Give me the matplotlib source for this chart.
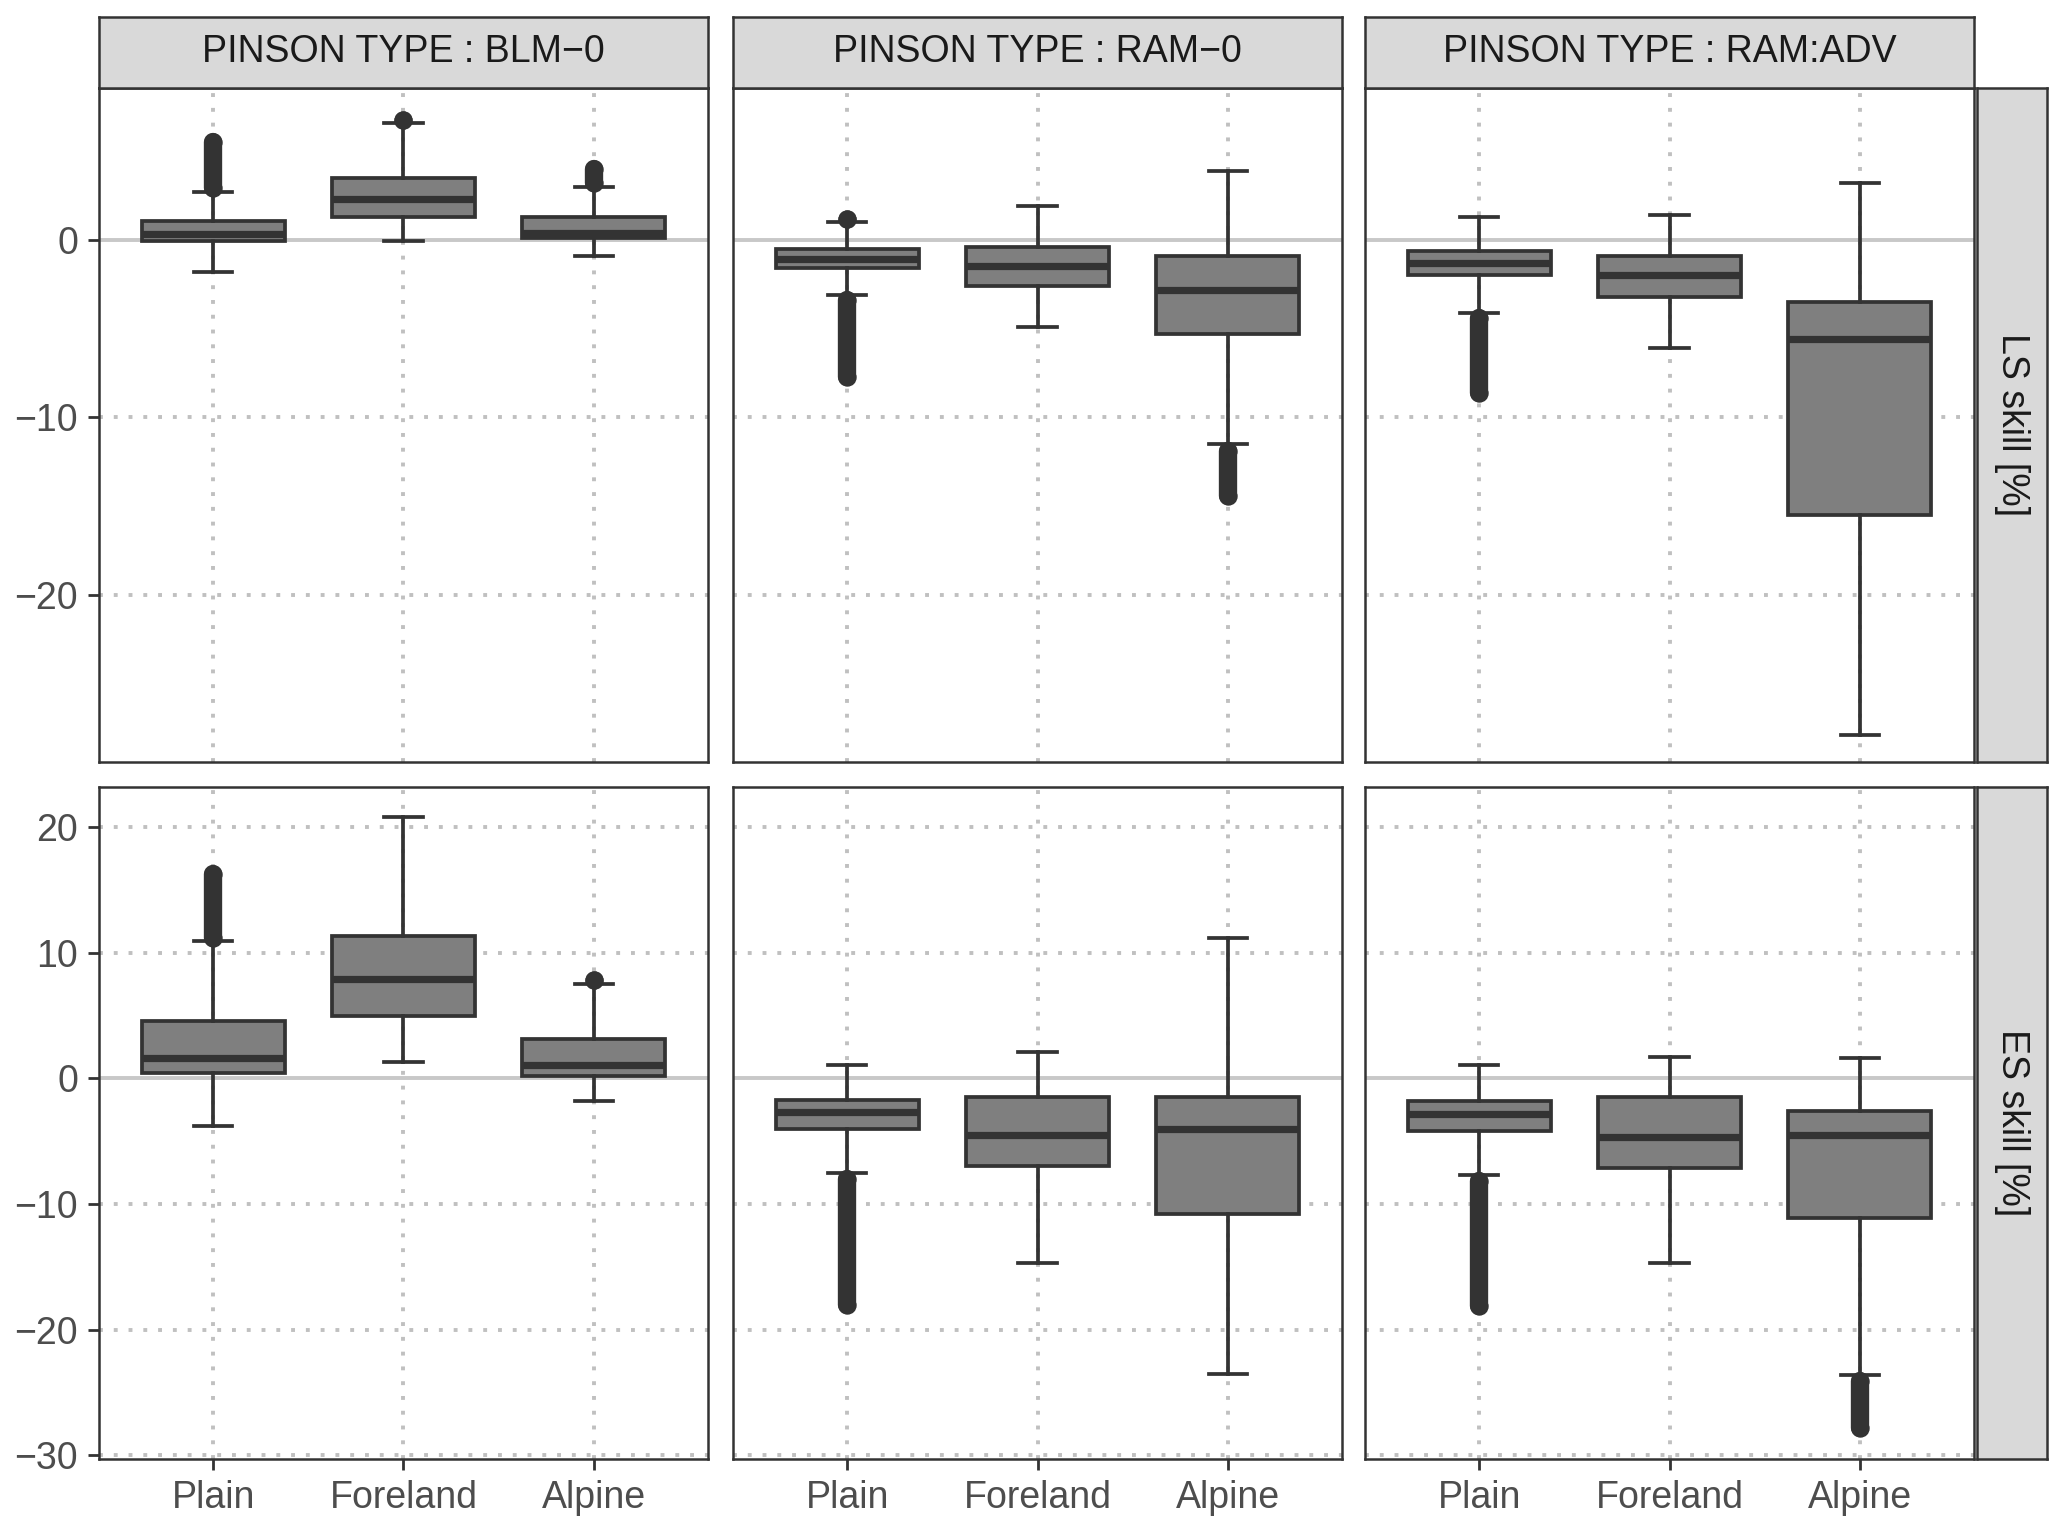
import matplotlib.pyplot as plt

plt.rcParams['font.family'] = ['Liberation Sans', 'DejaVu Sans']

regions = ['Plain', 'Foreland', 'Alpine']
pinson_types = ['BLM\u22120', 'RAM\u22120', 'RAM:ADV']
rows = ['LS skill [%]', 'ES skill [%]']

# LS skill, one list per pinson type (Plain, Foreland, Alpine)
ls_q1 = [[-0.05, 1.3, 0.1], [-1.6, -2.6, -5.3], [-2.0, -3.2, -15.5]]
ls_med = [[0.35, 2.3, 0.4], [-1.1, -1.5, -2.8], [-1.3, -2.0, -5.6]]
ls_q3 = [[1.05, 3.5, 1.3], [-0.5, -0.4, -0.9], [-0.6, -0.9, -3.5]]
ls_lo = [[-1.8, -0.05, -0.9], [-3.1, -4.9, -11.5], [-4.1, -6.1, -27.9]]
ls_hi = [[2.7, 6.6, 3.0], [1.0, 1.9, 3.9], [1.3, 1.4, 3.2]]
ls_out = [[[(2.9, 5.5)], [(6.75, 6.75)], [(3.2, 4.0)]],
          [[(1.2, 1.2), (-3.4, -7.7)], [], [(-11.9, -14.4)]],
          [[(-4.4, -8.6)], [], []]]

# ES skill
es_q1 = [[0.4, 5.0, 0.2], [-4.0, -7.0, -10.8], [-4.2, -7.1, -11.1]]
es_med = [[1.6, 7.9, 1.1], [-2.7, -4.5, -4.0], [-2.8, -4.7, -4.5]]
es_q3 = [[4.6, 11.3, 3.1], [-1.7, -1.5, -1.5], [-1.8, -1.5, -2.6]]
es_lo = [[-3.8, 1.3, -1.8], [-7.5, -14.7, -23.5], [-7.7, -14.7, -23.6]]
es_hi = [[10.9, 20.8, 7.5], [1.1, 2.1, 11.2], [1.1, 1.7, 1.6]]
es_out = [[[(11.2, 16.3)], [], [(7.8, 7.8)]],
          [[(-8.0, -18.0)], [], []],
          [[(-8.2, -18.1)], [], [(-24.1, -27.8)]]]

ls_ticks = [0, -10, -20]
es_ticks = [20, 10, 0, -10, -20, -30]
ylims = [(-29.4, 8.55), (-30.3, 23.2)]

dark = '#333333'
fill = '#7f7f7f'
grid = '#c0c0c0'

W, H = 2067, 1533
fig = plt.figure(figsize=(W / 200, H / 200), dpi=200)

col_left = [99, 733, 1365]
col_w = 609
row_top = [88, 787]
row_h = [674, 672]

stats_all = [(ls_q1, ls_med, ls_q3, ls_lo, ls_hi, ls_out),
             (es_q1, es_med, es_q3, es_lo, es_hi, es_out)]
ticks_all = [ls_ticks, es_ticks]

for r in range(2):
    q1, med, q3, lo, hi, out = stats_all[r]
    for c in range(3):
        ax = fig.add_axes([col_left[c] / W, 1 - (row_top[r] + row_h[r]) / H,
                           col_w / W, row_h[r] / H])
        ax.set_xlim(0.4, 3.6)
        ax.set_ylim(*ylims[r])
        # grid
        for t in ticks_all[r]:
            if t == 0:
                ax.axhline(0, color='#c8c8c8', lw=1.4, zorder=1)
            else:
                ax.axhline(t, color=grid, lw=1.4, ls=(0, (1, 2.8)), zorder=1)
        for x in [1, 2, 3]:
            ax.axvline(x, color=grid, lw=1.4, ls=(0, (1, 2.8)), zorder=1)

        stats = []
        for i in range(3):
            stats.append({'med': med[c][i], 'q1': q1[c][i], 'q3': q3[c][i],
                          'whislo': lo[c][i], 'whishi': hi[c][i], 'fliers': []})
        ax.bxp(stats, positions=[1, 2, 3], widths=0.75, capwidths=0.2,
               patch_artist=True, showfliers=False,
               boxprops=dict(facecolor=fill, edgecolor=dark, linewidth=1.35),
               whiskerprops=dict(color=dark, linewidth=1.35),
               capprops=dict(color=dark, linewidth=1.35),
               medianprops=dict(color=dark, linewidth=2.6, solid_capstyle='butt'),
               zorder=3)
        for i in range(3):
            for (a, b) in out[c][i]:
                ax.plot([i + 1, i + 1], [a, b], color=dark, lw=6.6,
                        solid_capstyle='round', marker='o', ms=6.6,
                        markeredgewidth=0, zorder=4)

        ax.set_yticks(ticks_all[r])
        ax.set_xticks([1, 2, 3])
        ax.tick_params(colors=dark, width=1.0, length=4, labelsize=13.5,
                       labelcolor='#4d4d4d')
        if c == 0:
            ax.set_yticklabels([str(t).replace('-', '\u2212') for t in ticks_all[r]])
        else:
            ax.tick_params(axis='y', length=0, labelleft=False)
        if r == 1:
            ax.set_xticklabels(regions)
        else:
            ax.tick_params(axis='x', length=0, labelbottom=False)
        for s in ax.spines.values():
            s.set_color(dark)
            s.set_linewidth(0.9)

        # top strip
        if r == 0:
            sax = fig.add_axes([col_left[c] / W, 1 - 88 / H, col_w / W, 71 / H])
            sax.set_facecolor('#d9d9d9')
            sax.set_xticks([])
            sax.set_yticks([])
            for s in sax.spines.values():
                s.set_color(dark)
                s.set_linewidth(0.9)
            sax.text(0.5, 0.5, 'PINSON TYPE : ' + pinson_types[c], ha='center',
                     va='center', fontsize=13.5, color='#1a1a1a', transform=sax.transAxes)

    # right strip
    rax = fig.add_axes([1977 / W, 1 - (row_top[r] + row_h[r]) / H, 70 / W, row_h[r] / H])
    rax.set_facecolor('#d9d9d9')
    rax.set_xticks([])
    rax.set_yticks([])
    for s in rax.spines.values():
        s.set_color(dark)
        s.set_linewidth(0.9)
    rax.text(0.5, 0.5, rows[r], ha='center', va='center', rotation=270,
             fontsize=13.5, color='#1a1a1a', transform=rax.transAxes)

fig.savefig('out.png', dpi=200, facecolor='white')
